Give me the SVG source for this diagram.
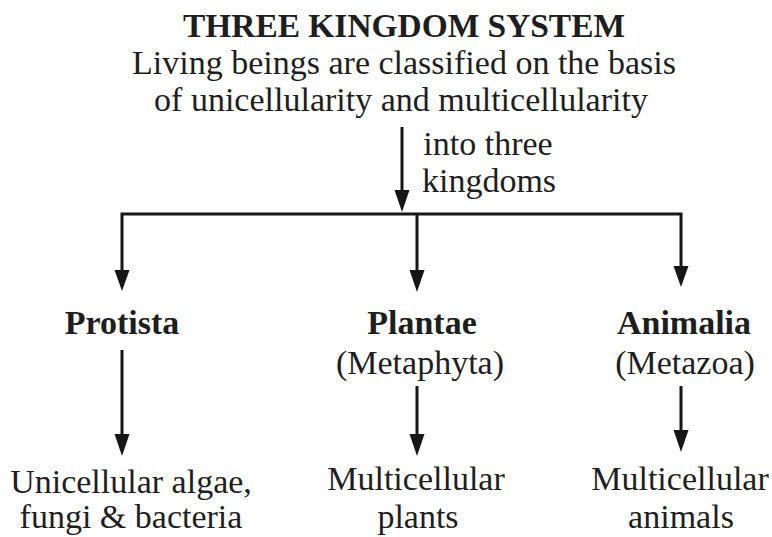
<svg xmlns="http://www.w3.org/2000/svg" width="772" height="537" viewBox="0 0 772 537">
  <style>
    text { font-family: "Liberation Serif", "Times New Roman", serif; fill: #1e1e1e; text-anchor: middle; font-size: 34px; }
    .title { font-weight: bold; }
    .kingdom { font-weight: bold; }
    .wire { stroke: #161616; stroke-width: 3; fill: none; }
    .head { fill: #161616; }
  </style>

  <g id="header">
    <text class="title" x="404" y="37" textLength="442" lengthAdjust="spacingAndGlyphs">THREE KINGDOM SYSTEM</text>
    <text x="404" y="74">Living beings are classified on the basis</text>
    <text x="401" y="111">of unicellularity and multicellularity</text>
  </g>

  <g id="connectors">
    <!-- trunk into the splitter bar -->
    <path class="wire" d="M402,127 V192"/>
    <path class="head" d="M394.5,190 L409.5,190 L402,212 Z"/>
    <!-- splitter bar and drops to the kingdoms -->
    <path class="wire" d="M122,272 V214 H681 V268"/>
    <path class="wire" d="M417,214 V272"/>
    <path class="head" d="M114.5,270 L129.5,270 L122,291 Z"/>
    <path class="head" d="M409.5,270 L424.5,270 L417,292 Z"/>
    <path class="head" d="M673.5,266 L688.5,266 L681,287 Z"/>
    <!-- kingdom to members -->
    <path class="wire" d="M122,350 V436"/>
    <path class="head" d="M114.5,434 L129.5,434 L122,456 Z"/>
    <path class="wire" d="M417,386 V436"/>
    <path class="head" d="M409.5,434 L424.5,434 L417,456 Z"/>
    <path class="wire" d="M681,386 V432"/>
    <path class="head" d="M673.5,430 L688.5,430 L681,452 Z"/>
    <text x="488" y="155">into three</text>
    <text x="489" y="192">kingdoms</text>
  </g>

  <g id="protista">
    <text class="kingdom" x="122" y="334">Protista</text>
  </g>
  <g id="plantae">
    <text class="kingdom" x="422" y="334">Plantae</text>
    <text x="420" y="374">(Metaphyta)</text>
  </g>
  <g id="animalia">
    <text class="kingdom" x="684" y="334">Animalia</text>
    <text x="685" y="374">(Metazoa)</text>
  </g>
  <g id="protista-members">
    <text x="131" y="493">Unicellular algae,</text>
    <text x="131" y="528">fungi &amp; bacteria</text>
  </g>
  <g id="plantae-members">
    <text x="416" y="490">Multicellular</text>
    <text x="418" y="528">plants</text>
  </g>
  <g id="animalia-members">
    <text x="680" y="490">Multicellular</text>
    <text x="681" y="528">animals</text>
  </g>
</svg>
